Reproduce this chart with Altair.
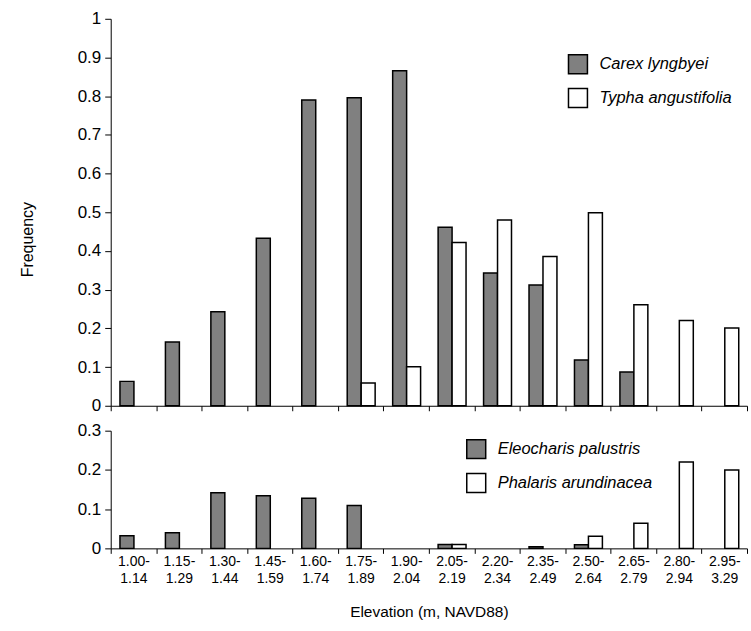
import altair as alt
import pandas as pd

categories = ["1.00-1.14", "1.15-1.29", "1.30-1.44", "1.45-1.59", "1.60-1.74",
              "1.75-1.89", "1.90-2.04", "2.05-2.19", "2.20-2.34", "2.35-2.49",
              "2.50-2.64", "2.65-2.79", "2.80-2.94", "2.95-3.29"]
carex = [0.063, 0.165, 0.243, 0.433, 0.790, 0.796, 0.866, 0.461, 0.343, 0.312,
         0.118, 0.087, 0.0, 0.0]
typha = [0.0, 0.0, 0.0, 0.0, 0.0, 0.059, 0.101, 0.422, 0.480, 0.386,
         0.499, 0.261, 0.220, 0.201]
eleocharis = [0.032, 0.040, 0.142, 0.134, 0.128, 0.109, 0.0, 0.010, 0.0, 0.004,
              0.009, 0.0, 0.0, 0.0]
phalaris = [0.0, 0.0, 0.0, 0.0, 0.0, 0.0, 0.0, 0.010, 0.0, 0.0,
            0.031, 0.064, 0.220, 0.200]

top_species = ["Carex lyngbyei", "Typha angustifolia"]
bot_species = ["Eleocharis palustris", "Phalaris arundinacea"]

def long(series_a, series_b, names):
    rows = []
    for c, a, b in zip(categories, series_a, series_b):
        rows.append({"cat": c, "species": names[0], "value": a})
        rows.append({"cat": c, "species": names[1], "value": b})
    return pd.DataFrame(rows)

df_top = long(carex, typha, top_species)
df_bot = long(eleocharis, phalaris, bot_species)

FONT = "Liberation Sans"
fills = ["#808080", "#ffffff"]

def panel(df, names, ymax, height, show_labels, ytitle, legend_xy):
    xaxis = alt.Axis(
        labels=show_labels, tickBand="extent", tickSize=5, tickColor="black",
        domainColor="black", labelAngle=0, labelFontSize=14, labelFont=FONT,
        labelColor="black", labelPadding=1, labelLineHeight=17,
        labelExpr="[slice(datum.label, 0, 5), slice(datum.label, 5)]",
        title="Elevation (m, NAVD88)" if show_labels else None,
        titleFont=FONT, titleFontSize=15.5, titleFontWeight="normal",
        titleColor="black", titlePadding=19,
    )
    yaxis = alt.Axis(
        values=[round(i * 0.1, 1) for i in range(int(round(ymax * 10)) + 1)],
        format=".1~f", grid=False, tickSize=6, tickColor="black",
        domainColor="black", labelFontSize=17, labelFont=FONT,
        labelColor="black", labelPadding=4,
        title=ytitle, titleFont=FONT, titleFontSize=16,
        titleFontWeight="normal", titleColor="black", titlePadding=42,
        titleY=221 if ytitle else alt.Undefined,
    )
    base = alt.Chart(df).encode(
        x=alt.X("cat:N", sort=categories,
                scale=alt.Scale(domain=categories, paddingInner=0,
                                paddingOuter=0), axis=xaxis),
        y=alt.Y("value:Q", scale=alt.Scale(domain=[0, ymax], nice=False),
                axis=yaxis),
        fill=alt.Fill("species:N",
                      scale=alt.Scale(domain=names, range=fills),
                      legend=alt.Legend(
                          title=None, orient="none",
                          legendX=legend_xy[0], legendY=legend_xy[1],
                          symbolType="square", symbolSize=361,
                          symbolStrokeColor="black", symbolStrokeWidth=1.5,
                          labelFont=FONT, labelFontSize=16.5,
                          labelFontStyle="italic", labelColor="black",
                          labelOffset=11, rowPadding=9)),
    )
    a = base.transform_filter(
        (alt.datum.species == names[0]) & (alt.datum.value > 0)
    ).mark_bar(stroke="black", strokeWidth=1.5, width=14, xOffset=-6.5)
    b = base.transform_filter(
        (alt.datum.species == names[1]) & (alt.datum.value > 0)
    ).mark_bar(stroke="black", strokeWidth=1.5, width=14, xOffset=7.5)
    return alt.layer(a, b).properties(width=638, height=height)

top = panel(df_top, top_species, 1.0, 388, False, "Frequency", (458, 35))
bot = panel(df_bot, bot_species, 0.3, 118, True, None, (356, 8))

chart = alt.vconcat(top, bot, spacing=8).resolve_scale(
    fill="independent"
).properties(
    padding={"left": 19, "top": 9, "right": 3, "bottom": 5}
).configure_view(stroke=None)

chart.save("out.html", embed_options={"renderer": "svg", "actions": False})
